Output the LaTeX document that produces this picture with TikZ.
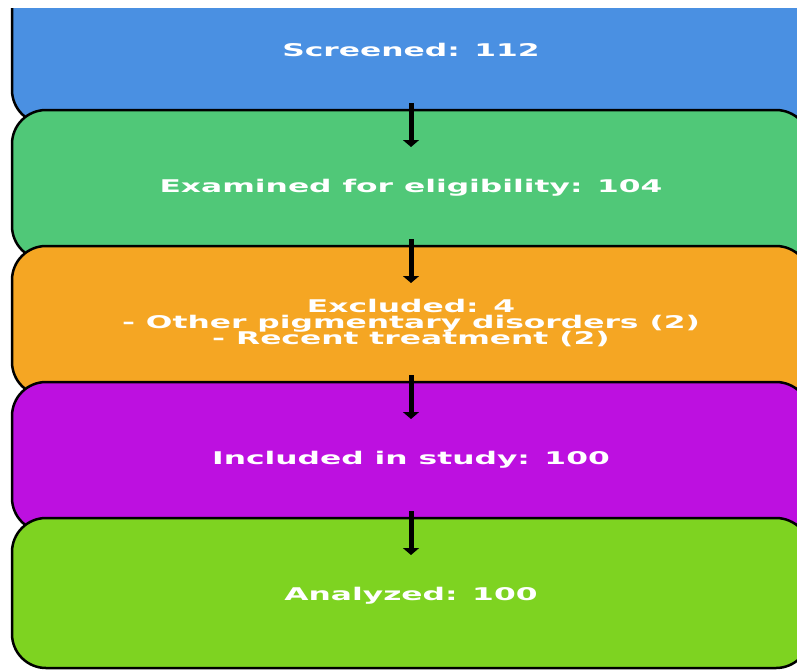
\documentclass[tikz,border=0pt]{standalone}
\usepackage{fontspec}
\usepackage{tikz}
\usetikzlibrary{arrows.meta}
\newfontfamily\boxfont{DejaVu Sans Bold}[FakeStretch=1.79]
% one line of box text, centred on its capitals
\newcommand{\stageline}[1]{\raisebox{-1.5pt}[12.5pt][0pt]{#1}}

\definecolor{screenblue}{HTML}{4A90E2}
\definecolor{examgreen}{HTML}{50C878}
\definecolor{excludeorange}{HTML}{F5A623}
\definecolor{includepurple}{HTML}{BD10E0}
\definecolor{analyzelime}{HTML}{7ED321}

\tikzset{
  stagebox/.style={draw=black, line width=2.5pt, rounded corners=34pt,
    minimum width=798pt, minimum height=150pt, inner sep=0pt,
    text=white, align=center,
    font=\boxfont\fontsize{17.5pt}{16pt}\selectfont},
  flowarrow/.style={line width=5pt, -{Triangle[width=16pt,length=7pt]}}
}

\begin{document}
\begin{tikzpicture}[x=1pt, y=-1pt]
  % page frame, top strip stays white
  \useasboundingbox (0,0) rectangle (797,670);
  \clip (0,8) rectangle (797,670);

  % stages, each one laid over the one above
  \node[stagebox, fill=screenblue] (screened) at (411,49) {\stageline{Screened: 112}};
  \node[stagebox, fill=examgreen] (examined) at (411,185) {\stageline{Examined for eligibility: 104}};
  \node[stagebox, fill=excludeorange] (excluded) at (411,321)
    {\stageline{Excluded: 4}\\\stageline{- Other pigmentary disorders (2)}\\\stageline{- Recent treatment (2)}};
  \node[stagebox, fill=includepurple] (included) at (411,457) {\stageline{Included in study: 100}};
  \node[stagebox, fill=analyzelime] (analyzed) at (411,593) {\stageline{Analyzed: 100}};

  % arrows between the stages
  \draw[flowarrow, shorten <=54pt, shorten >=38pt] (screened.center) -- (examined.center);
  \draw[flowarrow, shorten <=54pt, shorten >=38pt] (examined.center) -- (excluded.center);
  \draw[flowarrow, shorten <=54pt, shorten >=38pt] (excluded.center) -- (included.center);
  \draw[flowarrow, shorten <=54pt, shorten >=38pt] (included.center) -- (analyzed.center);
\end{tikzpicture}
\end{document}
